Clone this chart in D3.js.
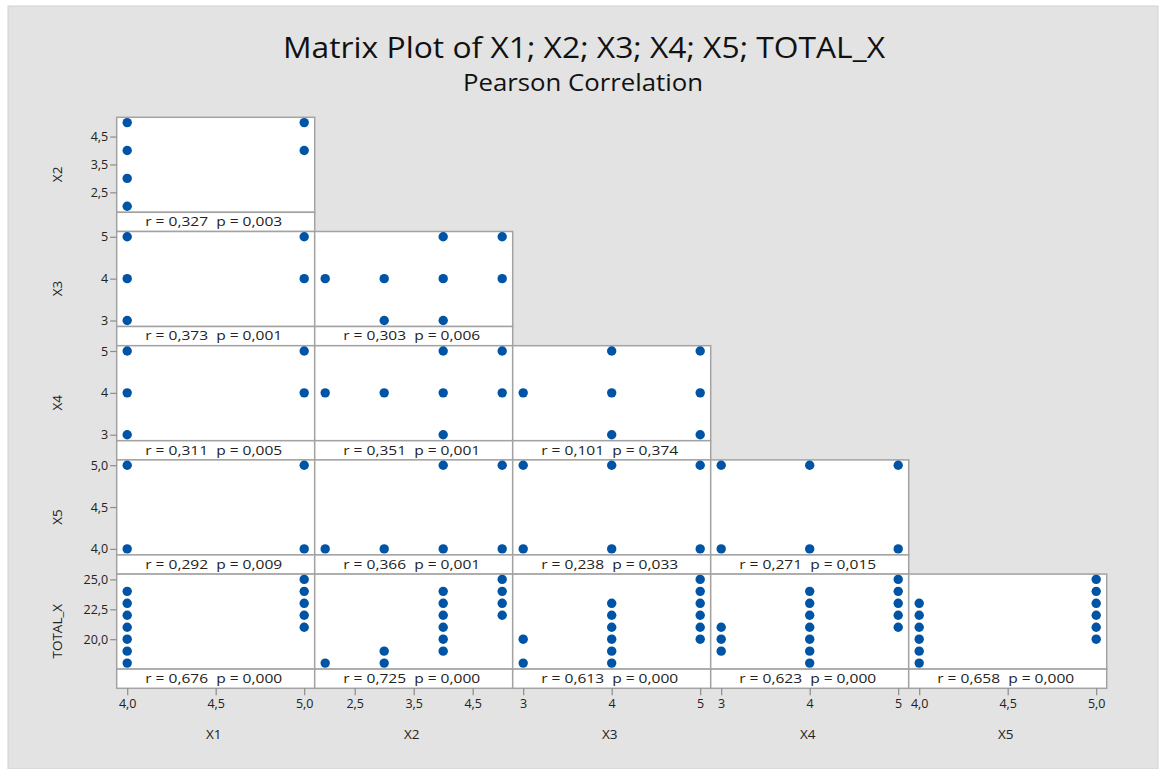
<!DOCTYPE html>
<html>
<head>
<meta charset="utf-8">
<script src="https://cdn.jsdelivr.net/npm/d3@7"></script>
<style>
  body { margin: 0; background: #ffffff; }
  svg { display: block; }
  text { font-family: "Open Sans", "Noto Sans", sans-serif; }
</style>
</head>
<body>
<svg id="chart" width="1160" height="769"></svg>
<script>
// Variables of the matrix plot and their value ranges
const variables = ["X1", "X2", "X3", "X4", "X5", "TOTAL_X"];
const domains = [[4, 5], [2, 5], [3, 5], [3, 5], [4, 5], [18, 25]];
const tickValues = [[4, 4.5, 5], [2.5, 3.5, 4.5], [3, 4, 5], [3, 4, 5], [4, 4.5, 5], [20, 22.5, 25]];
const tickDecimals = [1, 1, 0, 0, 1, 1];

// Distinct (x, y) observations in each panel of the lower triangle
const ptsX1X2 = [[4, 2], [4, 3], [4, 4], [4, 5], [5, 4], [5, 5]];
const ptsX1X3 = [[4, 3], [4, 4], [4, 5], [5, 4], [5, 5]];
const ptsX2X3 = [[2, 4], [3, 3], [3, 4], [4, 3], [4, 4], [4, 5], [5, 4], [5, 5]];
const ptsX1X4 = [[4, 3], [4, 4], [4, 5], [5, 4], [5, 5]];
const ptsX2X4 = [[2, 4], [3, 4], [4, 3], [4, 4], [4, 5], [5, 4], [5, 5]];
const ptsX3X4 = [[3, 4], [4, 3], [4, 4], [4, 5], [5, 3], [5, 4], [5, 5]];
const ptsX1X5 = [[4, 4], [4, 5], [5, 4], [5, 5]];
const ptsX2X5 = [[2, 4], [3, 4], [4, 4], [4, 5], [5, 4], [5, 5]];
const ptsX3X5 = [[3, 4], [3, 5], [4, 4], [4, 5], [5, 4], [5, 5]];
const ptsX4X5 = [[3, 4], [3, 5], [4, 4], [4, 5], [5, 4], [5, 5]];
const ptsX1Total = [[4, 18], [4, 19], [4, 20], [4, 21], [4, 22], [4, 23], [4, 24],
                    [5, 21], [5, 22], [5, 23], [5, 24], [5, 25]];
const ptsX2Total = [[2, 18], [3, 18], [3, 19], [4, 19], [4, 20], [4, 21], [4, 22], [4, 23], [4, 24],
                    [5, 22], [5, 23], [5, 24], [5, 25]];
const ptsX3Total = [[3, 18], [3, 20], [4, 18], [4, 19], [4, 20], [4, 21], [4, 22], [4, 23],
                    [5, 20], [5, 21], [5, 22], [5, 23], [5, 24], [5, 25]];
const ptsX4Total = [[3, 19], [3, 20], [3, 21], [4, 18], [4, 19], [4, 20], [4, 21], [4, 22], [4, 23], [4, 24],
                    [5, 21], [5, 22], [5, 23], [5, 24], [5, 25]];
const ptsX5Total = [[4, 18], [4, 19], [4, 20], [4, 21], [4, 22], [4, 23],
                    [5, 20], [5, 21], [5, 22], [5, 23], [5, 24], [5, 25]];

// Pearson r and p-value for each panel (row = y variable, column = x variable)
const rValues = [
  [0.327],
  [0.373, 0.303],
  [0.311, 0.351, 0.101],
  [0.292, 0.366, 0.238, 0.271],
  [0.676, 0.725, 0.613, 0.623, 0.658]
];
const pValues = [
  [0.003],
  [0.001, 0.006],
  [0.005, 0.001, 0.374],
  [0.009, 0.001, 0.033, 0.015],
  [0.000, 0.000, 0.000, 0.000, 0.000]
];

const panelPoints = [
  [ptsX1X2],
  [ptsX1X3, ptsX2X3],
  [ptsX1X4, ptsX2X4, ptsX3X4],
  [ptsX1X5, ptsX2X5, ptsX3X5, ptsX4X5],
  [ptsX1Total, ptsX2Total, ptsX3Total, ptsX4Total, ptsX5Total]
];

// Layout
const W = 1160, H = 769;
const gridLeft = 116.7, colW = 198;
const gridTop = 117.3, rowH = 114.2, stripH = 19.2;
const padX = 10.5, padTop = 5.3, padBottom = 6;
const dotColor = "#0054a6";
const frameColor = "#a3a3a3";
const textColor = "#222222";

const locale = d3.formatLocale({ decimal: ",", thousands: ".", grouping: [3], currency: ["", ""] });
const fmt3 = locale.format(".3f");

const svg = d3.select("#chart");

// Background
svg.append("rect")
  .attr("x", 8).attr("y", 6).attr("width", W - 10).attr("height", H - 6)
  .attr("fill", "#e3e3e3").attr("stroke", "#d2d2d2").attr("stroke-width", 1);

// Titles
svg.append("text")
  .attr("x", 584).attr("y", 58)
  .attr("text-anchor", "middle")
  .attr("font-size", 30).attr("fill", "#111")
  .attr("textLength", 602).attr("lengthAdjust", "spacingAndGlyphs")
  .text("Matrix Plot of X1; X2; X3; X4; X5; TOTAL_X");
svg.append("text")
  .attr("x", 583).attr("y", 91)
  .attr("text-anchor", "middle")
  .attr("font-size", 23).attr("fill", "#111")
  .attr("textLength", 240).attr("lengthAdjust", "spacingAndGlyphs")
  .text("Pearson Correlation");

// x scales per column, y scales per row
const xScale = j => d3.scaleLinear().domain(domains[j])
  .range([gridLeft + j * colW + padX, gridLeft + (j + 1) * colW - padX]);
const yScale = i => {
  const top = gridTop + i * rowH;
  const dataBottom = top + rowH - stripH;
  return d3.scaleLinear().domain(domains[i + 1]).range([dataBottom - padBottom, top + padTop]);
};
const tickFmt = k => v => locale.format("." + tickDecimals[k] + "f")(v);

for (let i = 0; i < 5; i++) {
  const top = gridTop + i * rowH;
  const y = yScale(i);
  for (let j = 0; j <= i; j++) {
    const left = gridLeft + j * colW;
    const x = xScale(j);
    const g = svg.append("g");
    // data area
    g.append("rect")
      .attr("x", left).attr("y", top).attr("width", colW).attr("height", rowH - stripH)
      .attr("fill", "#fff").attr("stroke", frameColor).attr("stroke-width", 1.5);
    // correlation strip
    g.append("rect")
      .attr("x", left).attr("y", top + rowH - stripH).attr("width", colW).attr("height", stripH)
      .attr("fill", "#fff").attr("stroke", frameColor).attr("stroke-width", 1.5);
    g.append("text")
      .attr("x", left + colW / 2 - 2).attr("y", top + rowH - 5.3)
      .attr("text-anchor", "middle")
      .attr("font-size", 13.5).attr("fill", textColor)
      .attr("textLength", 137).attr("lengthAdjust", "spacingAndGlyphs")
      .style("white-space", "pre")
      .text("r = " + fmt3(rValues[i][j]) + "  p = " + fmt3(pValues[i][j]));
    // points
    g.selectAll("circle")
      .data(panelPoints[i][j])
      .join("circle")
      .attr("cx", d => x(d[0]))
      .attr("cy", d => y(d[1]))
      .attr("r", 4.7)
      .attr("fill", dotColor);
  }

  // y axis on the first column
  const yAxis = svg.append("g")
    .attr("transform", `translate(${gridLeft},0)`)
    .call(d3.axisLeft(y).tickValues(tickValues[i + 1]).tickFormat(tickFmt(i + 1)).tickSize(6.5).tickPadding(2));
  yAxis.select(".domain").remove();
  yAxis.selectAll(".tick line").attr("stroke", "#8c8c8c").attr("stroke-width", 1.2);
  yAxis.selectAll(".tick text").attr("font-size", 12.5).attr("fill", textColor)
    .attr("font-family", "\"Open Sans\", sans-serif");

  // y axis title
  svg.append("text")
    .attr("transform", `translate(${62},${top + rowH / 2}) rotate(-90)`)
    .attr("text-anchor", "middle")
    .attr("font-size", 13.5).attr("fill", textColor)
    .text(variables[i + 1]);
}

// x axes along the bottom row
const axisY = gridTop + 5 * rowH;
for (let j = 0; j < 5; j++) {
  const x = xScale(j);
  const xAxis = svg.append("g")
    .attr("transform", `translate(0,${axisY})`)
    .call(d3.axisBottom(x).tickValues(tickValues[j]).tickFormat(tickFmt(j)).tickSize(7).tickPadding(4));
  xAxis.select(".domain").remove();
  xAxis.selectAll(".tick line").attr("stroke", "#8c8c8c").attr("stroke-width", 1.2);
  xAxis.selectAll(".tick text").attr("font-size", 12.5).attr("fill", textColor)
    .attr("font-family", "\"Open Sans\", sans-serif");

  svg.append("text")
    .attr("x", gridLeft + j * colW + colW / 2 - 2).attr("y", 739)
    .attr("text-anchor", "middle")
    .attr("font-size", 13.5).attr("fill", textColor)
    .text(variables[j]);
}
</script>
</body>
</html>
